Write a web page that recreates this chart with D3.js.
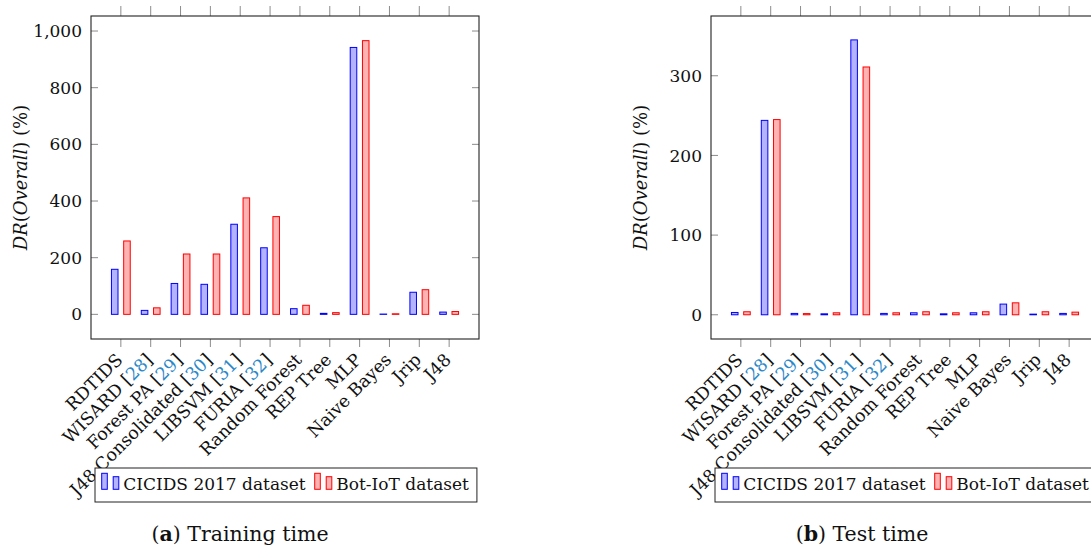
<!DOCTYPE html>
<html>
<head>
<meta charset="utf-8">
<script src="https://cdn.jsdelivr.net/npm/d3@7"></script>
<style>
  body { margin: 0; background: #fff; }
  svg { display: block; font-family: "DejaVu Serif", serif; }
</style>
</head>
<body>
<svg id="chart" width="1091" height="547"></svg>
<script>
// categories (cite = reference number shown in blue, null if none)
var labels = ["RDTIDS", "WISARD", "Forest PA", "J48 Consolidated", "LIBSVM", "FURIA",
              "Random Forest", "REP Tree", "MLP", "Naive Bayes", "Jrip", "J48"];
var cites = [null, 28, 29, 30, 31, 32, null, null, null, null, null, null];

var seriesNames = ["CICIDS 2017 dataset", "Bot-IoT dataset"];

// (a) training time
var trainCicids = [159, 14, 109, 106, 318, 235, 20, 3.5, 942, 1, 78, 8];
var trainBotiot = [259, 23, 213, 213, 411, 345, 32, 6, 966, 2, 87, 10];
var trainTicks = [0, 200, 400, 600, 800, 1000];

// (b) test time
var testCicids = [2.9, 244, 1.7, 1.2, 345, 1.7, 2.5, 1.2, 2.5, 13.4, 0.8, 1.7];
var testBotiot = [3.8, 245, 1.5, 2.5, 311, 2.5, 3.8, 2.5, 3.8, 15, 3.8, 3.3];
var testTicks = [0, 100, 200, 300];

var strokes = ["#0000ff", "#ff0000"];
var fills = ["#b3b3ff", "#ffb3b3"];
var citeColor = "#2a88c9";
var tickColor = "#8c8c8c";

var svg = d3.select("#chart");

drawPanel({
    left: 91, right: 479, top: 16, bottom: 339,
    ydomain: [-87, 1053], ticks: trainTicks, fmt: d3.format(","),
    series: [trainCicids, trainBotiot],
    labelX: 21, legendX: 95,
    caption: ["a", "Training time"], captionX: 240
});

drawPanel({
    left: 711, right: 1099, top: 16, bottom: 339,
    ydomain: [-30.4, 375], ticks: testTicks, fmt: d3.format(","),
    series: [testCicids, testBotiot],
    labelX: 641, legendX: 715,
    caption: ["b", "Test time"], captionX: 862
});

function drawPanel(c) {
    var g = svg.append("g");

    var x = d3.scalePoint()
        .domain(labels)
        .range([c.left, c.right])
        .padding(1);

    var y = d3.scaleLinear()
        .domain(c.ydomain)
        .range([c.bottom, c.top]);

    var step = x.step();
    var bw = step * 0.22;
    var off = step * 0.205;

    // y ticks, inside on both sides
    var yt = g.append("g");
    c.ticks.forEach(function (t) {
        yt.append("line")
            .attr("x1", c.left).attr("x2", c.left + 7)
            .attr("y1", y(t)).attr("y2", y(t))
            .attr("stroke", tickColor).attr("stroke-width", 1);
        yt.append("line")
            .attr("x1", c.right - 7).attr("x2", c.right)
            .attr("y1", y(t)).attr("y2", y(t))
            .attr("stroke", tickColor).attr("stroke-width", 1);
        yt.append("text")
            .attr("x", c.left - 9)
            .attr("y", y(t))
            .attr("dy", "0.36em")
            .attr("text-anchor", "end")
            .attr("font-size", 17)
            .attr("fill", "#111")
            .text(c.fmt(t));
    });

    // x ticks, outside top and bottom
    labels.forEach(function (d) {
        g.append("line")
            .attr("x1", x(d)).attr("x2", x(d))
            .attr("y1", c.top - 10).attr("y2", c.top)
            .attr("stroke", tickColor).attr("stroke-width", 1);
        g.append("line")
            .attr("x1", x(d)).attr("x2", x(d))
            .attr("y1", c.bottom).attr("y2", c.bottom + 8)
            .attr("stroke", tickColor).attr("stroke-width", 1);
    });

    // bars
    c.series.forEach(function (vals, s) {
        g.append("g")
            .selectAll("rect")
            .data(vals)
            .enter()
            .append("rect")
            .attr("x", function (d, i) { return x(labels[i]) + (s == 0 ? -off : off) - bw / 2; })
            .attr("y", function (d) { return y(d); })
            .attr("width", bw)
            .attr("height", function (d) { return y(0) - y(d); })
            .attr("fill", fills[s])
            .attr("stroke", strokes[s])
            .attr("stroke-width", 1);
    });

    // frame
    g.append("rect")
        .attr("x", c.left).attr("y", c.top)
        .attr("width", c.right - c.left).attr("height", c.bottom - c.top)
        .attr("fill", "none")
        .attr("stroke", "#222")
        .attr("stroke-width", 1.1);

    // rotated category labels
    labels.forEach(function (d, i) {
        var t = g.append("text")
            .attr("transform", "translate(" + (x(d) - 6) + "," + (c.bottom + 13) + ") rotate(-45)")
            .attr("text-anchor", "end")
            .attr("dy", "0.72em")
            .attr("font-size", 17.5)
            .attr("fill", "#111");
        t.append("tspan").text(cites[i] == null ? d : d + " [");
        if (cites[i] != null) {
            t.append("tspan").attr("fill", citeColor).text(cites[i]);
            t.append("tspan").text("]");
        }
    });

    // legend, on top of the labels
    var lg = g.append("g");
    var box = lg.append("rect")
        .attr("x", c.legendX).attr("y", 468)
        .attr("height", 34)
        .attr("fill", "#fff")
        .attr("stroke", "#222")
        .attr("stroke-width", 1);
    var cx = c.legendX + 6.7;
    seriesNames.forEach(function (name, s) {
        lg.append("rect")
            .attr("x", cx).attr("y", 473.3)
            .attr("width", 5.6).attr("height", 16)
            .attr("fill", fills[s]).attr("stroke", strokes[s]);
        lg.append("rect")
            .attr("x", cx + 11.5).attr("y", 476.7)
            .attr("width", 5.6).attr("height", 12.6)
            .attr("fill", fills[s]).attr("stroke", strokes[s]);
        var tx = lg.append("text")
            .attr("x", cx + 21.6).attr("y", 490)
            .attr("font-size", 17)
            .attr("fill", "#111")
            .text(name);
        cx = cx + 21.6 + tx.node().getComputedTextLength() + 9;
    });
    box.attr("width", cx - 9 + 8 - c.legendX);

    // y label
    var yl = g.append("text")
        .attr("transform", "translate(" + c.labelX + "," + ((c.top + c.bottom) / 2) + ") rotate(-90)")
        .attr("text-anchor", "middle")
        .attr("dy", "0.35em")
        .attr("font-size", 18)
        .attr("fill", "#111");
    yl.append("tspan").attr("font-style", "italic").text("DR");
    yl.append("tspan").text("(");
    yl.append("tspan").attr("font-style", "italic").text("Overall");
    yl.append("tspan").text(") (%)");

    // caption
    var cap = svg.append("text")
        .attr("x", c.captionX).attr("y", 541)
        .attr("text-anchor", "middle")
        .attr("font-size", 20.5)
        .attr("fill", "#111");
    cap.append("tspan").text("(");
    cap.append("tspan").attr("font-weight", "bold").text(c.caption[0]);
    cap.append("tspan").text(") " + c.caption[1]);
}
</script>
</body>
</html>
